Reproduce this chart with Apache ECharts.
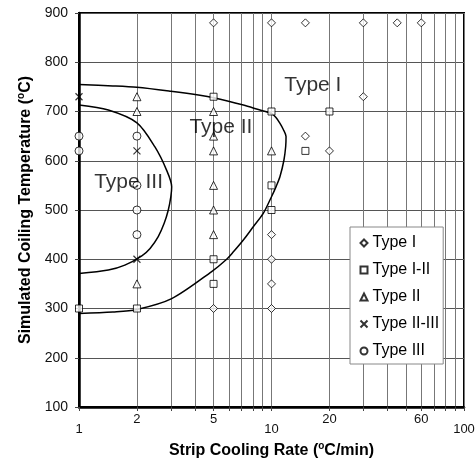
<!DOCTYPE html>
<html>
<head>
<meta charset="utf-8">
<script src="https://cdn.jsdelivr.net/npm/echarts@6/dist/echarts.min.js"></script>
<style>
  html, body { margin: 0; padding: 0; background: #fff; }
  #chart { width: 476px; height: 458px; }
</style>
</head>
<body>
<div id="chart"></div>
<script>
// Microstructure type observed at each (cooling rate, coiling temperature) condition
const typeI      = [[5, 880], [10, 880], [15, 880], [30, 880], [45, 880], [60, 880],
                    [30, 730], [15, 650], [20, 620],
                    [10, 450], [10, 400], [10, 350], [10, 300], [5, 300]];
const typeI_II   = [[1, 300], [2, 300], [5, 730], [5, 400], [5, 350],
                    [10, 700], [10, 550], [10, 500], [15, 620], [20, 700]];
const typeII     = [[2, 730], [2, 700], [2, 350],
                    [5, 700], [5, 650], [5, 620], [5, 550], [5, 500], [5, 450],
                    [10, 620]];
const typeII_III = [[1, 730], [2, 620], [2, 400]];
const typeIII    = [[1, 650], [1, 620], [2, 650], [2, 550], [2, 500], [2, 450]];

// Region boundaries
const outerBoundary = [[1, 755], [1.5, 752], [2, 749], [3, 741], [4.25, 733], [5, 728],
                       [7.14, 713], [8.54, 704], [10, 696], [10.55, 688], [11.07, 676],
                       [11.5, 664], [11.9, 649], [11.85, 629], [11.6, 601], [11.07, 568],
                       [10.55, 547], [10, 527], [9.06, 493], [8.04, 466], [7.14, 439],
                       [6.34, 415], [5.85, 400], [4.89, 375], [3.03, 320], [2, 298],
                       [1.5, 293], [1, 290]];
const innerBoundary = [[1, 713], [1.42, 703], [2, 677], [2.48, 628], [2.85, 581],
                       [3.03, 547], [3.0, 527], [2.91, 500], [2.77, 473], [2.58, 446],
                       [2.34, 422], [2.12, 407], [1.73, 388], [1.42, 378], [1, 371]];

// Region names
const regionNotes = [
  { name: 'Type I',   value: [16.4, 754] },
  { name: 'Type II',  value: [5.46, 668] },
  { name: 'Type III', value: [1.81, 557] }
];

// Axes
const xGridValues = [1, 2, 3, 4, 5, 6, 7, 8, 9, 10, 20, 30, 40, 50, 60, 70, 80, 90, 100];
const xTickLabels = [1, 2, 5, 10, 20, 60, 100];
const xLowerRow = [1, 10, 100];
const yMin = 100, yMax = 900, yStep = 100;

const FONT = '"Liberation Sans", Arial, sans-serif';
const INK = '#000';

const pointStyle = { color: '#fff', borderColor: INK, borderWidth: 1 };
const crossStyle = { color: 'none', borderColor: INK, borderWidth: 1.2 };

function pointSeries(name, data, symbol, size, style) {
  return {
    name: name, type: 'scatter', data: data,
    symbol: symbol, symbolSize: size, symbolKeepAspect: true,
    itemStyle: style, z: 5, silent: true
  };
}

function boundarySeries(data) {
  return {
    type: 'line', data: data, smooth: 0.3, showSymbol: false, symbol: 'none',
    lineStyle: { color: INK, width: 1.5 }, z: 4, silent: true
  };
}

const chart = echarts.init(document.getElementById('chart'), null, { renderer: 'canvas' });

chart.setOption({
  animation: false,
  backgroundColor: '#fff',
  textStyle: { fontFamily: FONT, color: INK },
  grid: {
    left: 79, right: 12, top: 13, bottom: 51,
    show: true, borderColor: INK, borderWidth: 2, backgroundColor: 'transparent',
    outerBoundsMode: 'none', containLabel: false
  },
  legend: {
    orient: 'vertical',
    left: 350, top: 227,
    data: ['Type I', 'Type I-II', 'Type II', 'Type II-III', 'Type III'],
    itemWidth: 7, itemHeight: 7, itemGap: 11, itemTextGap: 8,
    padding: [8, 4, 5, 8],
    backgroundColor: '#fff', borderColor: '#888', borderWidth: 1, borderRadius: 0,
    textStyle: { fontFamily: FONT, fontSize: 16, color: INK },
    selectedMode: false
  },
  xAxis: {
    type: 'log', logBase: 10, min: 1, max: 100,
    name: 'Strip Cooling Rate ({sup|o}C/min)',
    nameLocation: 'middle', nameGap: 31,
    nameTextStyle: {
      fontFamily: FONT, fontSize: 16, fontWeight: 'bold', color: INK,
      rich: { sup: { fontSize: 10, fontWeight: 'bold', fontFamily: FONT, color: INK, padding: [0, 0, 9, 0] } }
    },
    axisLine: { show: true, onZero: false, lineStyle: { color: INK, width: 2.5 } },
    axisTick: { show: true, customValues: xGridValues, length: 4, lineStyle: { color: '#444' } },
    axisLabel: {
      customValues: xTickLabels, margin: 6,
      fontFamily: FONT, fontSize: 13, color: '#111',
      formatter: function (v) {
        const r = Math.round(v);
        return xLowerRow.indexOf(r) >= 0 ? '{lo|' + r + '}' : '{hi|' + r + '}';
      },
      rich: {
        hi: { fontFamily: FONT, fontSize: 13, color: '#111', padding: [0, 0, 0, 0] },
        lo: { fontFamily: FONT, fontSize: 13, color: '#111', padding: [10, 0, 0, 0] }
      }
    },
    splitLine: { show: true, lineStyle: { color: '#777', width: 1 } },
    minorTick: { show: false }, minorSplitLine: { show: false }
  },
  yAxis: {
    type: 'value', min: yMin, max: yMax, interval: yStep,
    name: 'Simulated Coiling Temperature ({sup|o}C)',
    nameLocation: 'middle', nameGap: 44,
    nameTextStyle: {
      fontFamily: FONT, fontSize: 16, fontWeight: 'bold', color: INK,
      rich: { sup: { fontSize: 10, fontWeight: 'bold', fontFamily: FONT, color: INK, padding: [0, 0, 9, 0] } }
    },
    axisLine: { show: true, onZero: false, lineStyle: { color: INK, width: 2.5 } },
    axisTick: { show: true, length: 4, lineStyle: { color: '#444' } },
    axisLabel: { margin: 11, fontFamily: FONT, fontSize: 14, color: '#111' },
    splitLine: { show: true, lineStyle: { color: '#555', width: 1 } }
  },
  series: [
    boundarySeries(outerBoundary),
    boundarySeries(innerBoundary),
    pointSeries('Type I', typeI, 'diamond', 8, pointStyle),
    pointSeries('Type I-II', typeI_II, 'rect', 7, pointStyle),
    pointSeries('Type II', typeII, 'triangle', 8, pointStyle),
    pointSeries('Type II-III', typeII_III, 'path://M0,0L10,10M10,0L0,10', 7, crossStyle),
    pointSeries('Type III', typeIII, 'circle', 8, pointStyle),
    {
      type: 'scatter', data: regionNotes, symbolSize: 0, z: 6, silent: true,
      label: {
        show: true, position: 'inside', formatter: '{b}',
        fontFamily: FONT, fontSize: 21, color: INK
      }
    }
  ]
});
</script>
</body>
</html>
